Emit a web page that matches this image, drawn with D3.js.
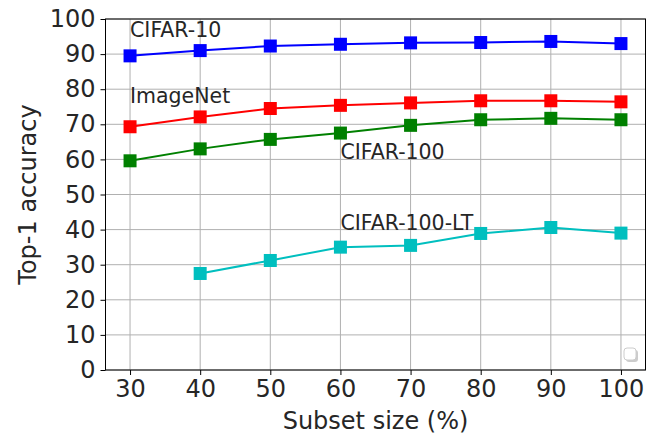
<!DOCTYPE html>
<html><head><meta charset="utf-8">
<script src="https://cdn.jsdelivr.net/npm/d3@7"></script>
<style>body{margin:0;background:#fff}svg{display:block}</style>
</head><body>
<svg id="c" width="652" height="436"></svg>
<script>
const subsetSizes = [30, 40, 50, 60, 70, 80, 90, 100];
const cifar10 = [89.5, 91.0, 92.3, 92.8, 93.2, 93.3, 93.6, 93.0];
const imagenet = [69.3, 72.1, 74.5, 75.4, 76.1, 76.7, 76.7, 76.4];
const cifar100 = [59.6, 63.0, 65.7, 67.5, 69.7, 71.3, 71.7, 71.3];
const cifar100ltSizes = [40, 50, 60, 70, 80, 90, 100];
const cifar100lt = [27.5, 31.2, 35.0, 35.5, 38.9, 40.6, 39.0];
const yTicks = [0, 10, 20, 30, 40, 50, 60, 70, 80, 90, 100];
const seriesNames = ["CIFAR-10", "ImageNet", "CIFAR-100", "CIFAR-100-LT"];
const seriesColors = ["#0000ff", "#ff0000", "#008000", "#00bfbf"];
const annotations = [
  {text: "CIFAR-10", x: 30, y: 95},
  {text: "ImageNet", x: 30, y: 76},
  {text: "CIFAR-100", x: 60, y: 60},
  {text: "CIFAR-100-LT", x: 60, y: 40}
];

const svg = d3.select("#c");
const L = 105.5, R = 645.5, T = 19, B = 370;
const x = d3.scaleLinear().domain([26.5, 103.5]).range([L, R]);
const y = d3.scaleLinear().domain([0, 100]).range([B, T]);
const font = "DejaVu Sans, sans-serif";

// grid
const g = svg.append("g");
g.selectAll(".gx").data(subsetSizes).enter().append("line")
  .attr("x1", d => x(d)).attr("x2", d => x(d)).attr("y1", T).attr("y2", B)
  .attr("stroke", "#b0b0b0").attr("stroke-width", 1);
g.selectAll(".gy").data(yTicks).enter().append("line")
  .attr("x1", L).attr("x2", R).attr("y1", d => y(d)).attr("y2", d => y(d))
  .attr("stroke", "#b0b0b0").attr("stroke-width", 1);

// series
const data = [
  subsetSizes.map((s, i) => [s, cifar10[i]]),
  subsetSizes.map((s, i) => [s, imagenet[i]]),
  subsetSizes.map((s, i) => [s, cifar100[i]]),
  cifar100ltSizes.map((s, i) => [s, cifar100lt[i]])
];
const line = d3.line().x(d => x(d[0])).y(d => y(d[1]));
data.forEach((pts, k) => {
  svg.append("path").attr("d", line(pts)).attr("fill", "none")
    .attr("stroke", seriesColors[k]).attr("stroke-width", 2);
  svg.selectAll(null).data(pts).enter().append("rect")
    .attr("x", d => x(d[0]) - 6.5).attr("y", d => y(d[1]) - 6.5)
    .attr("width", 13).attr("height", 13).attr("fill", seriesColors[k]);
});

// annotations
svg.selectAll(".ann").data(annotations).enter().append("text")
  .attr("x", d => x(d.x)).attr("y", d => y(d.y))
  .attr("font-family", font).attr("font-size", 20.5).attr("fill", "#262626")
  .text(d => d.text);

// spines
svg.append("rect").attr("x", L).attr("y", T).attr("width", R - L).attr("height", B - T)
  .attr("fill", "none").attr("stroke", "#000").attr("stroke-width", 1);

// axes
const xa = svg.append("g").attr("transform", `translate(0,${B})`)
  .call(d3.axisBottom(x).tickValues(subsetSizes).tickSize(5).tickPadding(5));
const ya = svg.append("g").attr("transform", `translate(${L},0)`)
  .call(d3.axisLeft(y).tickValues(yTicks).tickSize(5).tickPadding(5));
[xa, ya].forEach(a => {
  a.select(".domain").remove();
  a.selectAll("text").attr("font-family", font).attr("font-size", 24).attr("fill", "#262626");
  a.selectAll("line").attr("stroke", "#000");
});

// axis labels
svg.append("text").attr("x", (L + R) / 2).attr("y", 429).attr("text-anchor", "middle")
  .attr("font-family", font).attr("font-size", 24).attr("fill", "#262626").text("Subset size (%)");
svg.append("text").attr("transform", `translate(36,${(T + B) / 2}) rotate(-90)`)
  .attr("text-anchor", "middle")
  .attr("font-family", font).attr("font-size", 24).attr("fill", "#262626").text("Top-1 accuracy");

// empty legend box
svg.append("rect").attr("x", 626).attr("y", 350).attr("width", 12).attr("height", 12)
  .attr("rx", 3).attr("fill", "#999").attr("opacity", 0.5);
svg.append("rect").attr("x", 624).attr("y", 348).attr("width", 12).attr("height", 12)
  .attr("rx", 3).attr("fill", "#fff").attr("stroke", "#ccc").attr("stroke-width", 1);
</script>
</body></html>
